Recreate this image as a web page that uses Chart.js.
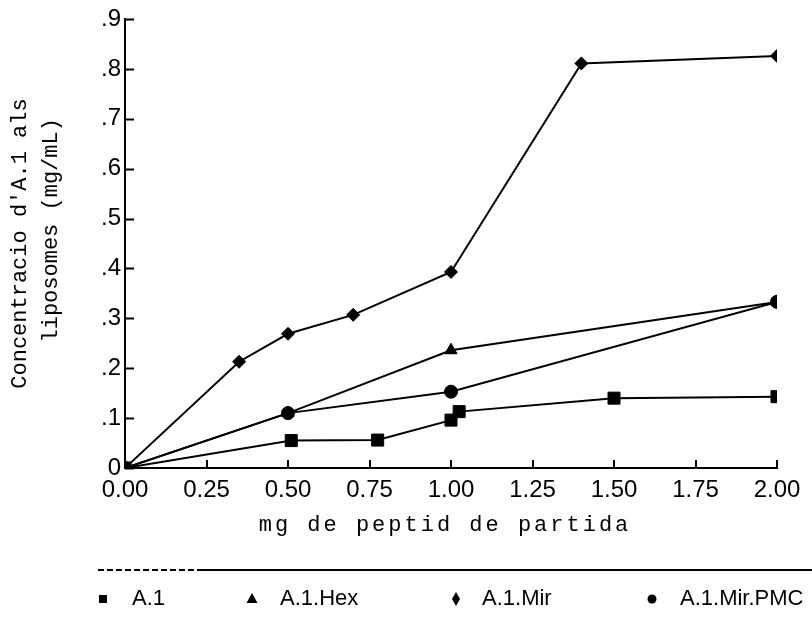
<!DOCTYPE html>
<html>
<head>
<meta charset="utf-8">
<script src="https://cdn.jsdelivr.net/npm/chart.js@4/dist/chart.umd.min.js"></script>
<style>
  body { margin: 0; background: #fff; }
  #wrap { width: 812px; height: 623px; }
</style>
</head>
<body>
<div id="wrap"><canvas id="chart" width="812" height="623"></canvas></div>
<script>
// values
const seriesNames = ["A.1", "A.1.Hex", "A.1.Mir", "A.1.Mir.PMC"];

const a1X = [0, 0.51, 0.775, 1.00, 1.025, 1.50, 2.00];
const a1Y = [0, 0.055, 0.056, 0.096, 0.113, 0.140, 0.143];

const hexX = [0, 0.50, 1.00, 2.00];
const hexY = [0, 0.110, 0.236, 0.333];

const mirX = [0, 0.35, 0.50, 0.70, 1.00, 1.40, 2.00];
const mirY = [0, 0.213, 0.269, 0.307, 0.393, 0.811, 0.826];

const pmcX = [0, 0.50, 1.00, 2.00];
const pmcY = [0, 0.110, 0.153, 0.333];

const xTicks = [0, 0.25, 0.5, 0.75, 1.0, 1.25, 1.5, 1.75, 2.0];
const yTicks = [0, 0.1, 0.2, 0.3, 0.4, 0.5, 0.6, 0.7, 0.8, 0.9];

const xTitle = "mg de peptid de partida";
const yTitle = ["Concentracio d'A.1 als", "  liposomes (mg/mL)"];

const pts = (xs, ys) => xs.map((x, i) => ({ x: x, y: ys[i] }));

const lineStyle = {
    borderColor: '#000',
    backgroundColor: '#000',
    pointBackgroundColor: '#000',
    pointBorderColor: '#000',
    borderWidth: 2,
    pointBorderWidth: 1,
    tension: 0
};

// markers at the frame edge are cut off in the original
const clipToArea = {
    id: 'clipToArea',
    beforeDatasetsDraw(chart) {
        const a = chart.chartArea;
        chart.ctx.save();
        chart.ctx.beginPath();
        chart.ctx.rect(a.left, a.top - 20, a.right - a.left, a.bottom - a.top + 20);
        chart.ctx.clip();
    },
    afterDatasetsDraw(chart) {
        chart.ctx.restore();
    }
};

// tick marks pointing into the plot, plus the spaced-out x title
const innerTicks = {
    id: 'innerTicks',
    afterDraw(chart) {
        const ctx = chart.ctx;
        const xs = chart.scales.x, ys = chart.scales.y;
        const area = chart.chartArea;
        ctx.save();
        ctx.strokeStyle = '#000';
        ctx.lineWidth = 2;
        ctx.beginPath();
        yTicks.forEach(v => {
            const py = Math.round(ys.getPixelForValue(v)) + 0.5;
            ctx.moveTo(area.left, py);
            ctx.lineTo(area.left + 9, py);
        });
        xTicks.forEach(v => {
            const px = Math.round(xs.getPixelForValue(v));
            ctx.moveTo(px, area.bottom);
            ctx.lineTo(px, area.bottom - 8);
        });
        ctx.stroke();

        ctx.fillStyle = '#000';
        ctx.font = '22px "Liberation Mono", "Courier New", monospace';
        ctx.letterSpacing = '3px';
        ctx.textAlign = 'center';
        ctx.textBaseline = 'middle';
        ctx.fillText(xTitle, (area.left + area.right) / 2 - 6, 525);
        ctx.restore();
    }
};

// boxed legend strip under the chart
const stripLegend = {
    id: 'stripLegend',
    afterDraw(chart) {
        const ctx = chart.ctx;
        const lineY = 570, textY = 599;
        const markX = [103, 252, 456, 652];
        const textX = [132, 280, 482, 680];
        ctx.save();
        ctx.strokeStyle = '#000';
        ctx.lineWidth = 2;
        ctx.setLineDash([6, 3]);
        ctx.beginPath();
        ctx.moveTo(98, lineY); ctx.lineTo(200, lineY);
        ctx.stroke();
        ctx.setLineDash([]);
        ctx.beginPath();
        ctx.moveTo(200, lineY); ctx.lineTo(812, lineY);
        ctx.stroke();

        ctx.fillStyle = '#000';
        // square
        ctx.fillRect(markX[0] - 4, textY - 4, 8, 8);
        // triangle
        ctx.beginPath();
        ctx.moveTo(markX[1], textY - 6);
        ctx.lineTo(markX[1] + 5.5, textY + 4);
        ctx.lineTo(markX[1] - 5.5, textY + 4);
        ctx.closePath();
        ctx.fill();
        // diamond
        ctx.beginPath();
        ctx.moveTo(markX[2], textY - 7);
        ctx.lineTo(markX[2] + 4, textY);
        ctx.lineTo(markX[2], textY + 7);
        ctx.lineTo(markX[2] - 4, textY);
        ctx.closePath();
        ctx.fill();
        // circle
        ctx.beginPath();
        ctx.arc(markX[3], textY, 4.5, 0, Math.PI * 2);
        ctx.fill();

        ctx.font = '22px "Liberation Sans", Arial, sans-serif';
        ctx.textBaseline = 'middle';
        ctx.textAlign = 'left';
        seriesNames.forEach((name, i) => ctx.fillText(name, textX[i], textY));
        ctx.restore();
    }
};

new Chart(document.getElementById('chart'), {
    type: 'line',
    data: {
        datasets: [
            Object.assign({ label: seriesNames[3], data: pts(pmcX, pmcY), pointStyle: 'circle', pointRadius: 6.5, order: 0 }, lineStyle),
            Object.assign({ label: seriesNames[0], data: pts(a1X, a1Y), pointStyle: 'rect', pointRadius: 8.5, order: 1 }, lineStyle),
            Object.assign({ label: seriesNames[1], data: pts(hexX, hexY), pointStyle: 'triangle', pointRadius: 7, order: 2 }, lineStyle),
            Object.assign({ label: seriesNames[2], data: pts(mirX, mirY), pointStyle: 'rectRot', pointRadius: 6.5, order: 3 }, lineStyle)
        ]
    },
    options: {
        responsive: false,
        animation: false,
        events: [],
        layout: { padding: { top: 19, right: 35, bottom: 75, left: 0 } },
        plugins: { legend: { display: false }, tooltip: { enabled: false } },
        scales: {
            x: {
                type: 'linear',
                min: 0,
                max: 2,
                afterFit: s => { s.height = 80; },
                afterBuildTicks: s => { s.ticks = xTicks.map(v => ({ value: v })); },
                grid: { display: false, drawTicks: false },
                border: { display: true, color: '#000', width: 2 },
                ticks: {
                    padding: 8,
                    color: '#000',
                    font: { family: '"Liberation Sans", Arial, sans-serif', size: 24 },
                    callback: v => Number(v).toFixed(2),
                    maxRotation: 0
                },
                title: { display: false }
            },
            y: {
                min: 0,
                max: 0.9,
                afterFit: s => { s.width = 125; },
                afterBuildTicks: s => { s.ticks = yTicks.map(v => ({ value: v })); },
                grid: { display: false, drawTicks: false },
                border: { display: true, color: '#000', width: 2 },
                ticks: {
                    padding: 4,
                    color: '#000',
                    font: { family: '"Liberation Sans", Arial, sans-serif', size: 24 },
                    callback: v => v === 0 ? '0' : '.' + Math.round(v * 10)
                },
                title: {
                    display: true,
                    text: yTitle,
                    color: '#000',
                    font: { family: '"Liberation Mono", "Courier New", monospace', size: 22, lineHeight: 1.4 },
                    padding: { top: 5, bottom: 0 }
                }
            }
        }
    },
    plugins: [clipToArea, innerTicks, stripLegend]
});
</script>
</body>
</html>
